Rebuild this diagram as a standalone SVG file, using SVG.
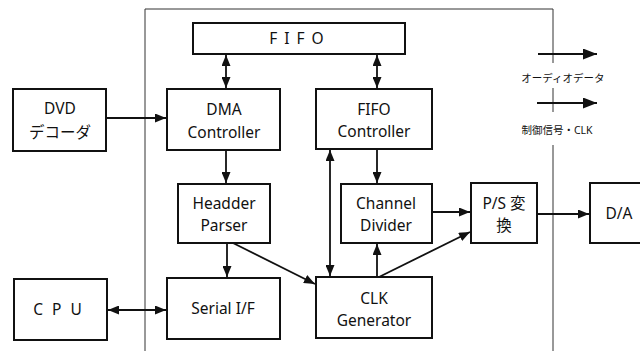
<svg xmlns="http://www.w3.org/2000/svg" width="640" height="351" viewBox="0 0 640 351">
<style>
.box{fill:#fff;stroke:#111;stroke-width:2}
.t{font-family:"Noto Sans","Noto Sans CJK JP",sans-serif;font-size:15.5px;fill:#111;text-anchor:middle}
.s{font-family:"Noto Sans","Noto Sans CJK JP",sans-serif;font-size:10.5px;fill:#111;text-anchor:middle}
.c{stroke:#111;stroke-width:1.8;fill:none}
.f{stroke:#333;stroke-width:1;fill:none}
</style>
<defs>
<marker id="ah" viewBox="0 0 11 9" refX="11" refY="4.5" markerWidth="11" markerHeight="9" markerUnits="userSpaceOnUse" orient="auto-start-reverse">
<path d="M0,0 L11,4.5 L0,9 Z" fill="#111"/>
</marker>
<marker id="lh" viewBox="0 0 14 11" refX="14" refY="5.5" markerWidth="14" markerHeight="11" markerUnits="userSpaceOnUse" orient="auto">
<path d="M0,0 L14,5.5 L0,11 Z" fill="#111"/>
</marker>
</defs>
<g id="frame">
<path class="f" d="M145,351 V9 H553 V63 M553,88 V112 M553,145 V351"/>
</g>
<g id="fifo"><rect class="box" x="193" y="23" width="212" height="31"/><text class="t" x="300" y="44" letter-spacing="7">FIFO</text></g>
<g id="dvd"><rect class="box" x="13" y="89" width="93" height="62"/><text class="t" x="60" y="114">DVD</text><text class="t" x="60" y="138">デコーダ</text></g>
<g id="dma"><rect class="box" x="167" y="89" width="113" height="61"/><text class="t" x="224" y="115">DMA</text><text class="t" x="224" y="138">Controller</text></g>
<g id="fifoctl"><rect class="box" x="316" y="89" width="116" height="60"/><text class="t" x="374" y="115">FIFO</text><text class="t" x="374" y="137">Controller</text></g>
<g id="parser"><rect class="box" x="178" y="184" width="92" height="59"/><text class="t" x="224" y="209">Headder</text><text class="t" x="224" y="231">Parser</text></g>
<g id="chdiv"><rect class="box" x="341" y="184" width="91" height="59"/><text class="t" x="386" y="209">Channel</text><text class="t" x="386" y="231">Divider</text></g>
<g id="ps"><rect class="box" x="471" y="183" width="66" height="60"/><text class="t" x="504" y="209">P/S 変</text><text class="t" x="504" y="231">換</text></g>
<g id="da"><rect class="box" x="590" y="183" width="60" height="60"/><text class="t" x="619" y="219">D/A</text></g>
<g id="cpu"><rect class="box" x="14" y="279" width="93" height="61"/><text class="t" x="62" y="315" letter-spacing="9">CPU</text></g>
<g id="serial"><rect class="box" x="167" y="278" width="113" height="61"/><text class="t" x="223" y="314">Serial I/F</text></g>
<g id="clk"><rect class="box" x="316" y="277" width="116" height="61"/><text class="t" x="374" y="304">CLK</text><text class="t" x="374" y="326">Generator</text></g>
<g id="legend">
<line class="c" x1="538" y1="54" x2="597" y2="54" marker-end="url(#lh)"/>
<text class="s" x="563" y="82">オーディオデータ</text>
<line class="c" x1="537" y1="103" x2="597" y2="103" marker-end="url(#lh)"/>
<text class="s" x="557" y="134">制御信号・CLK</text>
</g>
<g id="connectors">
<line class="c" x1="226" y1="55" x2="226" y2="88" marker-start="url(#ah)" marker-end="url(#ah)"/>
<line class="c" x1="377" y1="55" x2="377" y2="88" marker-start="url(#ah)" marker-end="url(#ah)"/>
<line class="c" x1="106" y1="118" x2="166" y2="118" marker-end="url(#ah)"/>
<line class="c" x1="226" y1="151" x2="226" y2="183" marker-end="url(#ah)"/>
<line class="c" x1="377" y1="150" x2="377" y2="183" marker-end="url(#ah)"/>
<line class="c" x1="330" y1="150" x2="330" y2="276" marker-start="url(#ah)" marker-end="url(#ah)"/>
<line class="c" x1="432" y1="212" x2="470" y2="212" marker-end="url(#ah)"/>
<line class="c" x1="537" y1="214" x2="589" y2="214" marker-end="url(#ah)"/>
<line class="c" x1="227" y1="244" x2="227" y2="277" marker-end="url(#ah)"/>
<line class="c" x1="233" y1="243" x2="315" y2="284" marker-end="url(#ah)"/>
<line class="c" x1="377" y1="276" x2="377" y2="244" marker-end="url(#ah)"/>
<line class="c" x1="379" y1="277" x2="470" y2="232" marker-end="url(#ah)"/>
<line class="c" x1="108" y1="310" x2="166" y2="310" marker-start="url(#ah)" marker-end="url(#ah)"/>
</g>
</svg>
